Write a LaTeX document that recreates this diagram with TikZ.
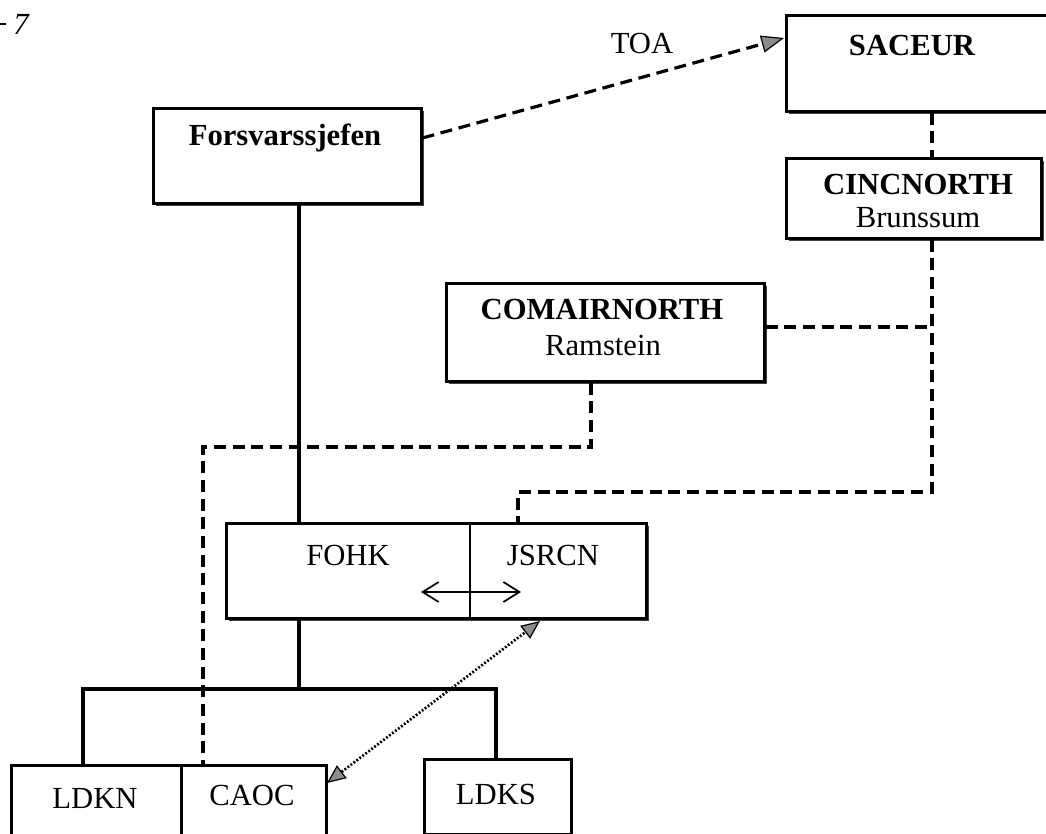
\documentclass[tikz,border=0pt]{standalone}
\usepackage{fontspec}
\setmainfont{Liberation Serif}
\usetikzlibrary{arrows.meta,calc}
\begin{document}
\begin{tikzpicture}[x=0.75pt,y=-0.75pt,
  box/.style={draw,line width=1.9pt,fill=white,inner sep=0pt},
  shadowed/.style={preaction={fill=black!75,transform canvas={xshift=2.4pt,yshift=-2.4pt}}},
  lbl/.style={font=\fontsize{23}{26}\selectfont,inner sep=0pt,anchor=base},
  blbl/.style={font=\bfseries\fontsize{23}{26}\selectfont,inner sep=0pt,anchor=base},
  solidline/.style={line width=2.6pt},
  dashline/.style={line width=2.4pt,dash pattern=on 9pt off 5pt},
  dotline/.style={line width=2pt,dash pattern=on 1.4pt off 1.4pt},
  tri/.tip={Triangle[length=14pt,width=12pt,fill=black!45,line width=0.9pt]}
]
\useasboundingbox (0,0) rectangle (1046,834);

% boxes
\node[box,shadowed,minimum width=290*0.75pt,minimum height=96*0.75pt,anchor=north west] (sac) at (785,14) {};
\node[blbl] (sact) at (912,56) {SACEUR};

\node[box,shadowed,minimum width=268*0.75pt,minimum height=95*0.75pt,anchor=north west] (fs) at (152,107) {};
\node[blbl] (fst) at (285,146) {Forsvarssjefen};

\node[box,shadowed,minimum width=255*0.75pt,minimum height=80*0.75pt,anchor=north west] (cinc) at (785,157) {};
\node[blbl] (cinct) at (918,195) {CINCNORTH};
\node[lbl] (cincs) at (918,228) {Brunssum};

\node[box,shadowed,minimum width=318*0.75pt,minimum height=98*0.75pt,anchor=north west] (com) at (445,282) {};
\node[blbl] (comt) at (602,320) {COMAIRNORTH};
\node[lbl] (coms) at (603,355) {Ramstein};

\node[box,shadowed,minimum width=420*0.75pt,minimum height=95*0.75pt,anchor=north west] (hk) at (225,522) {};
\coordinate (div) at (470,0);
\draw[line width=1.9pt] (hk.north -| div) -- (hk.south -| div);
\node[lbl] (fohk) at (348,565) {FOHK};
\node[lbl] (jsrcn) at (553,565) {JSRCN};
\coordinate (jsbot) at (540,621);

\node[box,minimum width=170*0.75pt,minimum height=90*0.75pt,anchor=north west] (ldkn) at (10,764) {};
\node[box,minimum width=145*0.75pt,minimum height=90*0.75pt,anchor=north west] (caoc) at (180,764) {};
\node[lbl] (ldknt) at (95,808) {LDKN};
\node[lbl] (caoct) at (252,805) {CAOC};
\node[box,minimum width=147*0.75pt,minimum height=75*0.75pt,anchor=north west] (ldks) at (423,758) {};
\node[lbl] (ldkst) at (496,804) {LDKS};

% page label
\node[font=\itshape\fontsize{23}{26}\selectfont,inner sep=0pt,anchor=base] (pg) at (21,35) {7};
\coordinate (dsh) at (0,24);
\draw[line width=1.6pt] (dsh) -- ++(6,0);

% TOA
\node[lbl] (toa) at (642,54) {TOA};
\coordinate (toaA) at (fs.east |- 0,138);
\coordinate (toaB) at (784,38);
\draw[dashline,-{Triangle[length=17pt,width=13pt,fill=black!45,line width=0.9pt]}] (toaA) -- (toaB);

% solid hierarchy
\coordinate (vx) at (299,0);
\draw[solidline] (fs.south -| vx) -- (hk.north -| vx);
\coordinate (ty) at (0,689);
\coordinate (lx) at (83,0);
\coordinate (rx) at (496,0);
\draw[solidline] (hk.south -| vx) -- (ty -| vx);
\draw[solidline] (ldkn.north -| lx) -- (ty -| lx) -- (ty -| rx) -- (ldks.north -| rx);

% dashed NATO links
\coordinate (dx) at (932,0);
\draw[dashline] (sac.south -| dx) -- (cinc.north -| dx);
\coordinate (jy) at (0,492);
\coordinate (jx) at (518,0);
\draw[dashline] (cinc.south -| dx) -- (jy -| dx) -- (jy -| jx) -- (hk.north -| jx);
\coordinate (cy) at (0,327);
\draw[dashline] (com.east |- cy) -- (cy -| dx);
\coordinate (cx) at (591,0);
\coordinate (ky) at (0,447);
\coordinate (kx) at (203,0);
\draw[dashline] (com.south -| cx) -- (ky -| cx) -- (ky -| kx) -- (caoc.north -| kx);

% double arrow inside FOHK/JSRCN
\coordinate (da) at (421,592);
\coordinate (db) at (521,592);
\draw[line width=1.3pt,{Straight Barb[length=12pt,width=15pt,line width=1.3pt]}-{Straight Barb[length=12pt,width=15pt,line width=1.3pt]}] (da) -- (db);

% dotted link JSRCN <-> CAOC
\coordinate (cr) at (327,783);
\draw[dotline,tri-tri] (cr) -- (jsbot);
\end{tikzpicture}
\end{document}
